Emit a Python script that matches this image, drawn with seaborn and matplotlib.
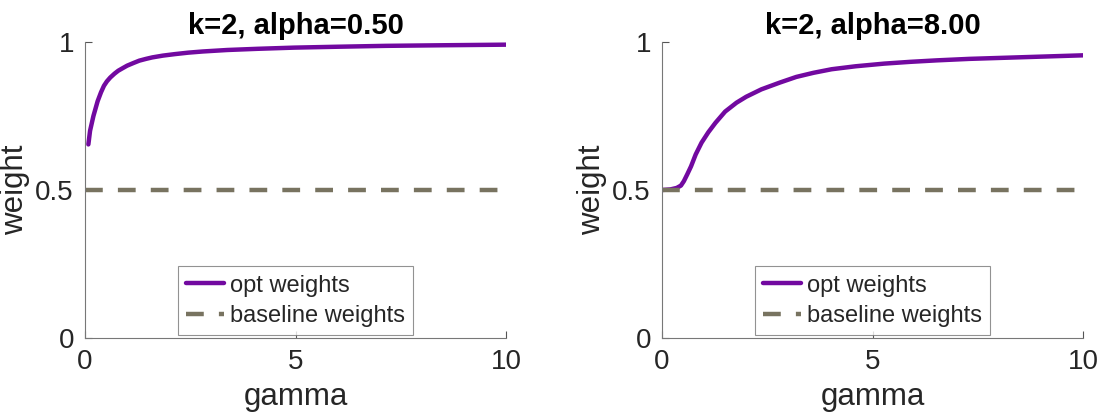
import matplotlib
matplotlib.use("Agg")
import matplotlib.pyplot as plt
import numpy as np
import pandas as pd
import seaborn as sns

# values
gamma_a = [0.08, 0.12, 0.2, 0.3, 0.38, 0.45, 0.52, 0.6, 0.7, 0.79, 0.9, 1.0, 1.15, 1.29, 1.45, 1.6,
           1.85, 2.13, 2.45, 2.8, 3.38, 4.1, 4.97, 6.0, 7.15, 8.5, 10.0]
opt_a = [0.654, 0.70, 0.75, 0.80, 0.83, 0.852, 0.867, 0.88, 0.893, 0.903, 0.912, 0.92, 0.929, 0.937,
         0.943, 0.948, 0.954, 0.959, 0.964, 0.968, 0.973, 0.977, 0.981, 0.984, 0.987, 0.989, 0.991]

gamma_b = [0.0, 0.2, 0.35, 0.45, 0.52, 0.6, 0.69, 0.8, 0.94, 1.1, 1.27, 1.5, 1.77, 2.0,
           2.36, 2.8, 3.19, 3.6, 4.03, 4.6, 5.28, 5.9, 6.53, 7.3, 8.2, 9.1, 10.0]
opt_b = [0.5, 0.502, 0.507, 0.515, 0.53, 0.553, 0.58, 0.62, 0.66, 0.695, 0.727, 0.765, 0.795, 0.815,
         0.84, 0.863, 0.882, 0.896, 0.908, 0.918, 0.927, 0.933, 0.938, 0.943, 0.947, 0.951, 0.955]

baseline_gamma = [0.0, 10.0]
baseline_w = [0.5, 0.5]

titles = ["k=2, alpha=0.50", "k=2, alpha=8.00"]
x_ticks = [0, 5, 10]
y_ticks = [0, 0.5, 1]
y_ticklabels = ["0", "0.5", "1"]

OPT_COLOR = "#7209a0"
BASE_COLOR = "#787360"
AXIS_COLOR = "#262626"

sns.set_theme(style="ticks")
plt.rcParams["font.family"] = ["Liberation Sans", "DejaVu Sans"]


def draw_panel(ax, gamma, opt, title):
    df_opt = pd.DataFrame({"gamma": gamma, "weight": opt})
    df_base = pd.DataFrame({"gamma": baseline_gamma, "weight": baseline_w})
    sns.lineplot(data=df_opt, x="gamma", y="weight", ax=ax, color=OPT_COLOR,
                 linewidth=3.2, label="opt weights")
    sns.lineplot(data=df_base, x="gamma", y="weight", ax=ax, color=BASE_COLOR,
                 linewidth=3.2, label="baseline weights")
    ax.lines[1].set_dashes((4.0, 3.4))

    ax.set_xlim(0, 10)
    ax.set_ylim(0, 1)
    ax.set_xticks(x_ticks)
    ax.set_yticks(y_ticks)
    ax.set_yticklabels(y_ticklabels)
    ax.tick_params(direction="in", length=5, width=0.8, colors="#555555",
                   labelcolor=AXIS_COLOR, labelsize=20, pad=8)
    for side in ("top", "right"):
        ax.spines[side].set_visible(False)
    for side in ("left", "bottom"):
        ax.spines[side].set_color("#777777")
        ax.spines[side].set_linewidth(0.8)

    ax.set_xlabel("gamma", fontsize=22.5, color=AXIS_COLOR, labelpad=5)
    ax.set_ylabel("weight", fontsize=22.5, color=AXIS_COLOR, labelpad=4)
    ax.set_title(title, fontsize=21, fontweight="bold", color="black", pad=6)

    leg = ax.legend(loc="lower center", bbox_to_anchor=(0.5, 0.01), borderaxespad=0,
                    fontsize=17, frameon=True, fancybox=False, handlelength=1.6,
                    handletextpad=0.25, labelspacing=0.35, borderpad=0.35)
    leg.get_frame().set_edgecolor("#777777")
    leg.get_frame().set_linewidth(0.8)


fig = plt.figure(figsize=(11.02, 4.16), dpi=100)
ax1 = fig.add_axes([85 / 1102, 78 / 416, 421 / 1102, 296 / 416])
ax2 = fig.add_axes([662 / 1102, 78 / 416, 421 / 1102, 296 / 416])

draw_panel(ax1, gamma_a, opt_a, titles[0])
draw_panel(ax2, gamma_b, opt_b, titles[1])

fig.savefig("out.png", dpi=100)
